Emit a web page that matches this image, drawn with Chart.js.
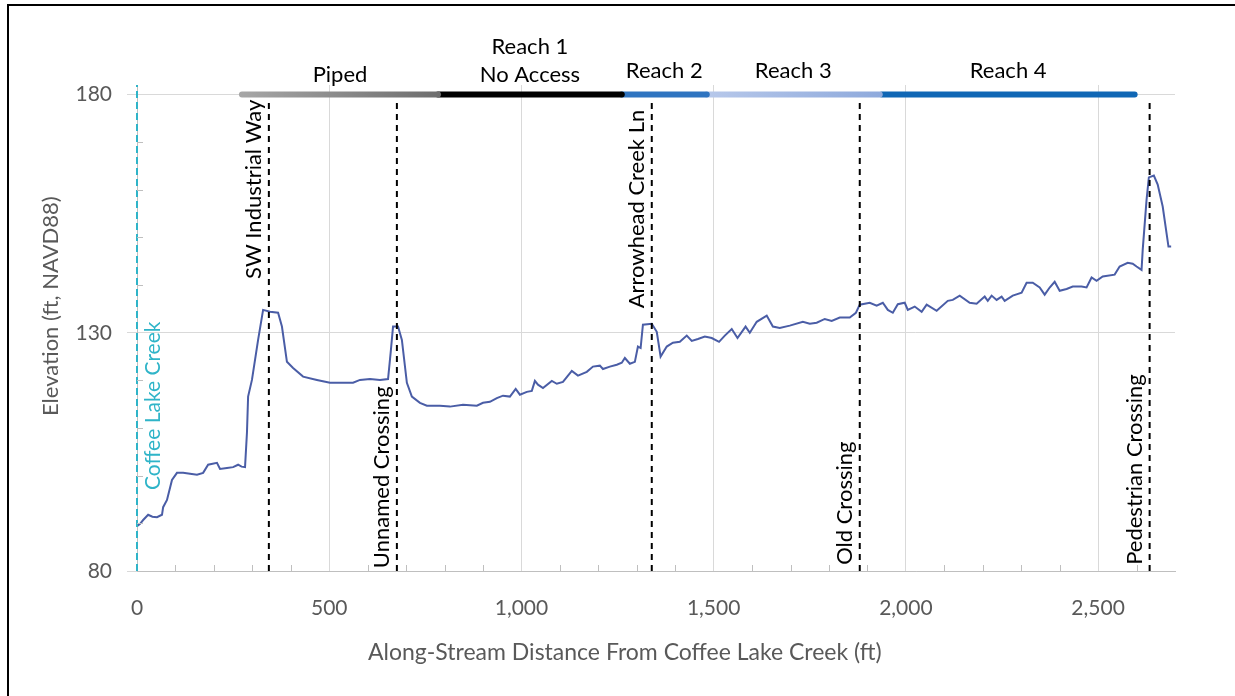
<!DOCTYPE html>
<html>
<head>
<title>Coffee Lake Creek profile</title>
<script src="https://cdn.jsdelivr.net/npm/chart.js@4/dist/chart.umd.min.js"></script>
<style>
  body { margin: 0; background: #fff; }
  #frame { position: absolute; left: 7px; top: 4px; width: 1240px; height: 700px; border: 2px solid #000; }
  #wrap { position: absolute; left: 0; top: 0; width: 1235px; height: 696px; }
</style>
</head>
<body>
<div id="frame"></div>
<div id="wrap"><canvas id="profile"></canvas></div>

<script>
// thalweg profile
var distance = [0, 8, 16, 29, 40, 52, 65, 68, 78, 91, 104, 120, 138, 156, 172, 185, 208, 216, 234, 250, 263, 272, 281, 286, 289, 299, 315, 328, 346, 367, 377, 390, 406, 432, 468, 502, 536, 562, 580, 606, 632, 653, 660, 666, 679, 689, 702, 715, 736, 754, 788, 814, 848, 884, 900, 918, 936, 952, 970, 985, 996, 1014, 1027, 1035, 1043, 1056, 1079, 1092, 1108, 1131, 1147, 1170, 1186, 1204, 1212, 1230, 1248, 1261, 1269, 1282, 1295, 1303, 1310, 1316, 1339, 1352, 1362, 1378, 1394, 1412, 1430, 1443, 1459, 1477, 1495, 1514, 1529, 1547, 1562, 1583, 1594, 1612, 1638, 1654, 1672, 1698, 1732, 1750, 1768, 1789, 1807, 1828, 1854, 1870, 1880, 1906, 1924, 1940, 1953, 1966, 1979, 1997, 2005, 2023, 2041, 2054, 2080, 2109, 2122, 2140, 2166, 2184, 2205, 2213, 2223, 2236, 2249, 2257, 2278, 2301, 2314, 2330, 2348, 2361, 2374, 2387, 2400, 2418, 2434, 2457, 2470, 2483, 2496, 2512, 2543, 2556, 2577, 2590, 2600, 2613, 2616, 2626, 2632, 2645, 2655, 2668, 2683, 2690];
var elevation = [89.4, 89.9, 90.7, 91.8, 91.4, 91.3, 91.8, 93.4, 94.9, 99.1, 100.6, 100.6, 100.4, 100.2, 100.6, 102.3, 102.7, 101.4, 101.6, 101.8, 102.3, 101.9, 101.8, 109, 116.6, 120.1, 128.5, 134.8, 134.4, 134.2, 131.3, 123.9, 122.6, 120.8, 120.1, 119.5, 119.5, 119.5, 120.1, 120.3, 120.1, 120.3, 126, 131.3, 131.3, 128.5, 119.5, 116.6, 115.3, 114.7, 114.7, 114.5, 114.9, 114.7, 115.3, 115.5, 116.3, 116.8, 116.6, 118.2, 117, 117.6, 117.8, 119.9, 119.1, 118.4, 119.9, 119.3, 119.7, 122, 121, 121.8, 122.9, 123.1, 122.4, 122.9, 123.3, 123.7, 124.7, 123.5, 123.9, 127.1, 126.8, 131.7, 131.9, 130.2, 125, 127.1, 127.9, 128.1, 129.4, 128.3, 128.7, 129.2, 128.9, 128.1, 129.4, 130.8, 128.9, 131.3, 130, 132.3, 133.6, 131.3, 131, 131.5, 132.3, 131.9, 132.1, 132.9, 132.5, 133.2, 133.2, 134.2, 135.9, 136.3, 135.7, 136.3, 134.8, 134.2, 136, 136.3, 134.8, 135.5, 134.4, 135.9, 134.6, 136.7, 136.9, 137.8, 136.3, 136.1, 137.6, 136.7, 137.8, 136.9, 137.6, 136.7, 137.8, 138.4, 140.5, 140.5, 139.5, 138, 139.5, 140.7, 138.8, 139.2, 139.7, 139.7, 139.5, 141.6, 140.9, 141.8, 142.2, 143.9, 144.7, 144.5, 143.9, 143.2, 147.4, 157.9, 162.6, 163, 161.1, 156.5, 148.1, 148.1];

var crossingNames = ['SW Industrial Way', 'Unnamed Crossing', 'Arrowhead Creek Ln', 'Old Crossing', 'Pedestrian Crossing'];
var crossingDist = [343, 676, 1339, 1880, 2634];

var reachNames = [['Piped'], ['Reach 1', 'No Access'], ['Reach 2'], ['Reach 3'], ['Reach 4']];
var reachStart = [273, 783, 1261, 1482, 1937];
var reachEnd = [783, 1261, 1482, 1932, 2595];

var xTicks = [0, 500, 1000, 1500, 2000, 2500];
var yTicks = [80, 130, 180];

var xTitle = 'Along-Stream Distance From Coffee Lake Creek (ft)';
var yTitle = 'Elevation (ft, NAVD88)';

// styling
var FONT = 'Lato, "Open Sans", sans-serif';
var GREY_TXT = '#595959';
var reachColors = [['#a6a6a6', '#6e6e6e'], ['#000000', '#000000'], ['#2f74c0', '#2f74c0'], ['#b7c8ea', '#8faadc'], ['#1067b5', '#1067b5']];
var labelSide = ['top', 'bottom', 'top', 'bottom', 'bottom'];
var labelAnchor = [178.9, 80.6, 176.8, 81.3, 81.3];

var profilePts = distance.map(function (d, i) { return { x: d, y: elevation[i] }; });

var datasets = [];

crossingDist.forEach(function (d, i) {
    datasets.push({
        data: [{ x: d, y: 80 }, { x: d, y: 179 }],
        borderColor: '#000',
        borderWidth: 2,
        borderDash: [6, 5],
        pointRadius: 0
    });
});

datasets.push({
    data: [{ x: 0, y: 80 }, { x: 0, y: 182 }],
    borderColor: '#2fb4c8',
    borderWidth: 2,
    borderDash: [7, 4],
    pointRadius: 0,
    clip: 6
});

datasets.push({
    data: profilePts,
    borderColor: '#4a5da6',
    borderWidth: 2,
    pointRadius: 0,
    tension: 0
});

reachStart.forEach(function (s, i) {
    datasets.push({
        data: [{ x: s, y: 180 }, { x: reachEnd[i], y: 180 }],
        borderWidth: 6,
        borderCapStyle: 'round',
        pointRadius: 0,
        borderColor: function (c) {
            var chart = c.chart;
            if (!chart.chartArea) return reachColors[i][1];
            var xs = chart.scales.x;
            var g = chart.ctx.createLinearGradient(xs.getPixelForValue(s), 0, xs.getPixelForValue(reachEnd[i]), 0);
            g.addColorStop(0, reachColors[i][0]);
            g.addColorStop(1, reachColors[i][1]);
            return g;
        }
    });
});

var annotations = {
    id: 'annotations',
    afterDatasetsDraw: function (chart) {
        var ctx = chart.ctx, xs = chart.scales.x, ys = chart.scales.y;
        var area = chart.chartArea;
        ctx.save();

        // minor ticks
        ctx.strokeStyle = '#bfbfbf';
        ctx.lineWidth = 1;
        ctx.beginPath();
        for (var v = 100; v <= 2600; v += 100) {
            if (v % 500 === 0) continue;
            var px = Math.round(xs.getPixelForValue(v)) + 0.5;
            ctx.moveTo(px, area.bottom);
            ctx.lineTo(px, area.bottom - 6);
        }
        for (var w = 90; w < 180; w += 10) {
            if (w === 130) continue;
            var py = Math.round(ys.getPixelForValue(w)) + 0.5;
            ctx.moveTo(area.left, py);
            ctx.lineTo(area.left + 6, py);
        }
        ctx.stroke();

        // axis titles (sit a little off-centre in the original)
        ctx.fillStyle = GREY_TXT;
        ctx.font = '23px ' + FONT;
        ctx.textAlign = 'center';
        ctx.textBaseline = 'middle';
        ctx.fillText(xTitle, area.left + (area.right - area.left) * 0.47, area.bottom + 82);
        ctx.save();
        ctx.translate(area.left - 86, area.top + (area.bottom - area.top) * 0.455);
        ctx.rotate(-Math.PI / 2);
        ctx.font = '22px ' + FONT;
        ctx.fillText(yTitle, 0, 0);
        ctx.restore();

        // reach labels above the bars
        ctx.font = '22px ' + FONT;
        ctx.fillStyle = '#000';
        var barY = ys.getPixelForValue(180);
        reachNames.forEach(function (lines, i) {
            var cx = xs.getPixelForValue((reachStart[i] + reachEnd[i]) / 2);
            for (var k = 0; k < lines.length; k++) {
                var off = (lines.length - k) * 28 - 8;
                if (lines.length === 1 && i !== 0) off = 24;
                ctx.fillText(lines[k], cx, barY - off);
            }
        });

        // crossing labels, rotated
        ctx.font = '22px ' + FONT;
        crossingNames.forEach(function (name, i) {
            var lx = xs.getPixelForValue(crossingDist[i]);
            var ly = ys.getPixelForValue(labelAnchor[i]);
            ctx.save();
            ctx.translate(lx - 4, ly);
            ctx.rotate(-Math.PI / 2);
            ctx.textAlign = labelSide[i] === 'top' ? 'right' : 'left';
            ctx.textBaseline = 'bottom';
            ctx.fillText(name, 0, 0);
            ctx.restore();
        });

        ctx.save();
        ctx.fillStyle = '#2fb4c8';
        ctx.font = '21px ' + FONT;
        ctx.translate(xs.getPixelForValue(0) + 6, ys.getPixelForValue(97));
        ctx.rotate(-Math.PI / 2);
        ctx.textAlign = 'left';
        ctx.textBaseline = 'top';
        ctx.fillText('Coffee Lake Creek', 0, 0);
        ctx.restore();

        ctx.restore();
    }
};

var chart = new Chart(document.getElementById('profile').getContext('2d'), {
    type: 'line',
    data: { datasets: datasets },
    options: {
        responsive: true,
        maintainAspectRatio: false,
        animation: false,
        layout: { padding: { top: 85, right: 60, left: 0, bottom: 0 } },
        plugins: { legend: { display: false }, tooltip: { enabled: false } },
        scales: {
            x: {
                type: 'linear',
                min: 0,
                max: 2700,
                afterBuildTicks: function (s) { s.ticks = xTicks.map(function (v) { return { value: v }; }); },
                afterFit: function (s) { s.height = 125; },
                grid: { color: '#d9d9d9', drawTicks: false },
                border: { color: '#bfbfbf' },
                ticks: {
                    padding: 25,
                    color: GREY_TXT,
                    font: { family: FONT, size: 21 },
                    maxRotation: 0,
                    callback: function (v) { return v.toLocaleString('en-US'); }
                }
            },
            y: {
                min: 80,
                max: 182,
                afterBuildTicks: function (s) { s.ticks = yTicks.map(function (v) { return { value: v }; }); },
                afterFit: function (s) { s.width = 137; },
                grid: { color: '#d9d9d9', tickLength: 10 },
                border: { color: '#bfbfbf' },
                ticks: {
                    padding: 15,
                    color: GREY_TXT,
                    font: { family: FONT, size: 21 }
                }
            }
        }
    },
    plugins: [annotations]
});
</script>
</body>
</html>
